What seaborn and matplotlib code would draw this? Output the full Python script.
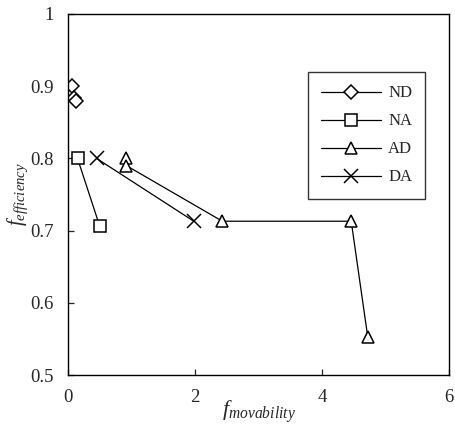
import pandas as pd
import seaborn as sns
import matplotlib.pyplot as plt

# values
nd_x = [0.06, 0.10, 0.12]
nd_y = [0.900, 0.883, 0.880]
na_x = [0.15, 0.50]
na_y = [0.800, 0.706]
ad_x = [0.92, 0.92, 2.43, 4.46, 4.72]
ad_y = [0.800, 0.790, 0.713, 0.713, 0.553]
da_x = [0.45, 1.98]
da_y = [0.800, 0.713]

sns.set_style("ticks")
plt.rcParams['font.family'] = ['Liberation Serif', 'DejaVu Serif']
plt.rcParams['mathtext.fontset'] = 'custom'
plt.rcParams['mathtext.rm'] = 'Liberation Serif'
plt.rcParams['mathtext.it'] = 'Liberation Serif:italic'

fig = plt.figure(figsize=(4.55, 4.29), dpi=100)
ax = fig.add_axes([68 / 455, 1 - 375 / 429, 381 / 455, 361 / 429])

series = [("ND", nd_x, nd_y, "D", 7), ("NA", na_x, na_y, "s", 8),
          ("AD", ad_x, ad_y, "^", 9), ("DA", da_x, da_y, "x", 10)]
for name, xs, ys, mk, ms in series:
    df = pd.DataFrame({"x": xs, "y": ys})
    sns.lineplot(data=df, x="x", y="y", ax=ax, sort=False, estimator=None,
                 color="black", lw=0.9, marker=mk, markersize=ms,
                 markerfacecolor="white", markeredgecolor="black",
                 markeredgewidth=1.1, label=name)

ax.set_xlim(0, 6)
ax.set_ylim(0.5, 1)
ax.set_xticks([0, 2, 4, 6])
ax.set_xticklabels(["0", "2", "4", "6"])
ax.set_yticks([0.5, 0.6, 0.7, 0.8, 0.9, 1.0])
ax.set_yticklabels(["0.5", "0.6", "0.7", "0.8", "0.9", "1"])
ax.tick_params(direction="in", length=4, width=0.9, labelsize=13.5, pad=10)
for s in ax.spines.values():
    s.set_linewidth(1.0)
    s.set_color("black")

ax.set_xlabel(r"$f_{movability}$", fontsize=16)
ax.set_ylabel(r"$f_{efficiency}$", fontsize=15)
ax.xaxis.set_label_coords(0.5, -0.065)
ax.yaxis.set_label_coords(-0.1, 0.5)

leg = ax.legend(loc="upper left", bbox_to_anchor=(0.63, 0.839), frameon=True,
                fancybox=False, edgecolor="black", fontsize=12,
                handlelength=3.6, labelspacing=0.72, borderpad=0.8,
                handletextpad=0.4, borderaxespad=0)
leg.get_frame().set_linewidth(1.0)

fig.savefig("out.png", dpi=100)
